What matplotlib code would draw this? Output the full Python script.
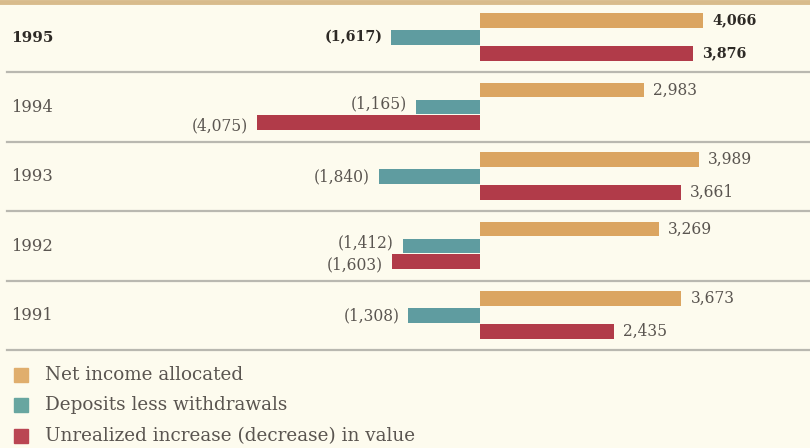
import matplotlib
matplotlib.use("Agg")
import matplotlib.pyplot as plt
from matplotlib.patches import Rectangle

years = ["1995", "1994", "1993", "1992", "1991"]
net_income = [4066, 2983, 3989, 3269, 3673]
deposits = [-1617, -1165, -1840, -1412, -1308]
unrealized = [3876, -4075, 3661, -1603, 2435]
series_names = ["Net income allocated", "Deposits less withdrawals",
                "Unrealized increase (decrease) in value"]

colors = ["#dba561", "#5f9ca0", "#b13b49"]
leg_colors = ["#e0ae6d", "#68a6a0", "#ba4653"]
bg = "#fdfbee"
txt = "#5a5550"

W, H = 810, 448
fig = plt.figure(figsize=(W / 100, H / 100), dpi=100, facecolor=bg)
ax = fig.add_axes([0, 0, 1, 1])
ax.set_facecolor(bg)

scale = 223 / 4066
x0 = 480
ax.set_xlim(-x0 / scale, (W - x0) / scale)
ypx0, ystep = 37.5, 69.5
ax.set_ylim((H - ypx0) / ystep, -ypx0 / ystep)
ax.axis("off")

offsets = [-0.245, 0.0, 0.225]
bh = 0.215
font = ["DejaVu Serif"]
pad = 9 / scale

for i, yr in enumerate(years):
    bold = (i == 0)
    fw = "bold" if bold else "normal"
    tc = "#2e2a26" if bold else txt
    ax.text(-469 / scale, i, yr, ha="left", va="center",
            fontsize=11 if bold else 11.8,
            family=font, weight=fw, color=tc)
    both_neg = deposits[i] < 0 and unrealized[i] < 0
    for s, vals in enumerate([net_income, deposits, unrealized]):
        v = vals[i]
        y = i + offsets[s]
        ax.barh(y, v, height=bh, left=0, color=colors[s], edgecolor="none")
        ty = y
        if both_neg and s == 1:
            ty -= 0.04
        if both_neg and s == 2:
            ty += 0.05
        fs = 10.3 if bold else 11.2
        if v >= 0:
            ax.text(v + pad, ty, f"{v:,}", ha="left", va="center", fontsize=fs,
                    family=font, weight=fw, color=tc)
        else:
            ax.text(v - pad, ty, f"({-v:,})", ha="right", va="center", fontsize=fs,
                    family=font, weight=fw, color=tc)

# separators
for k in range(len(years)):
    ax.axhline(k + 0.5, xmin=7 / W, xmax=1, color="#b9b8b0", lw=1.6)
ax.axhline(-0.51, color="#d8bb8c", lw=3.5)

# legend
leg_y = [375, 405, 436]
for s, name in enumerate(series_names):
    fig.patches.append(Rectangle((14 / W, 1 - (leg_y[s] + 7) / H), 14 / W, 14 / H,
                                 transform=fig.transFigure, color=leg_colors[s]))
    fig.text(45 / W, 1 - leg_y[s] / H, name, ha="left", va="center",
             fontsize=13.2, family=font, color=txt)

fig.savefig("out.png", dpi=100, facecolor=bg)
